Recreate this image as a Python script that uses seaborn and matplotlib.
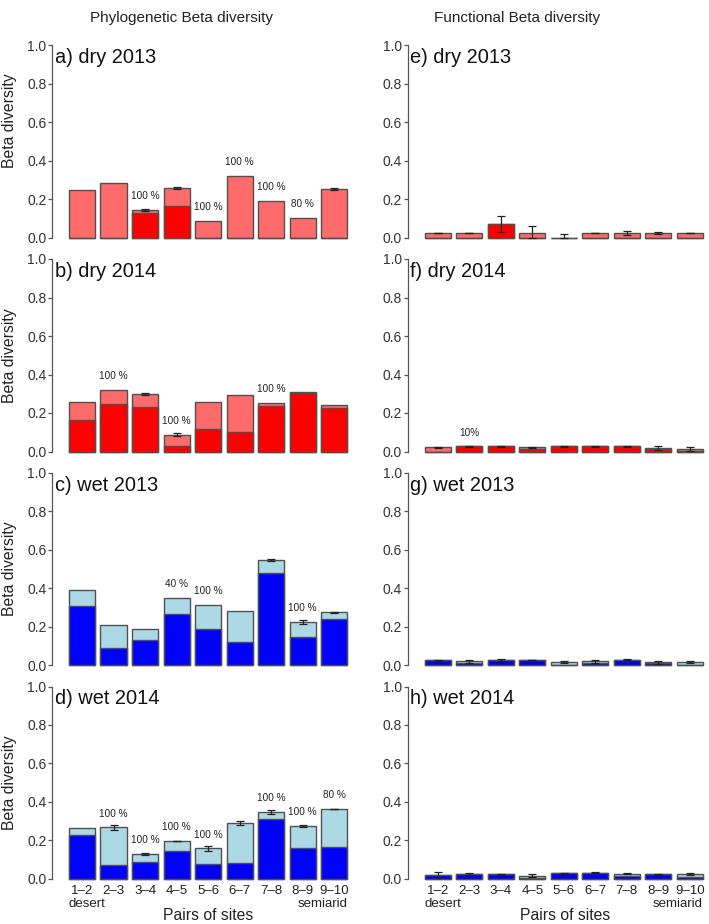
import matplotlib
matplotlib.use("Agg")
import matplotlib.pyplot as plt
import seaborn as sns
import numpy as np
import pandas as pd

sns.set_style("white")
plt.rcParams['font.family'] = ['Liberation Sans', 'DejaVu Sans']

pairs = ["1–2", "2–3", "3–4", "4–5", "5–6", "6–7", "7–8", "8–9", "9–10"]

# Phylogenetic beta diversity
phy_dry2013_total = [0.248, 0.283, 0.144, 0.257, 0.087, 0.319, 0.193, 0.104, 0.252]
phy_dry2013_dark = [0, 0, 0.130, 0.165, 0, 0, 0, 0, 0]
phy_dry2013_err = [0, 0, 0.007, 0.006, 0, 0, 0, 0, 0.006]
phy_dry2013_pct = ["", "", "100 %", "", "100 %", "100 %", "100 %", "80 %", ""]

phy_dry2014_total = [0.259, 0.321, 0.297, 0.088, 0.255, 0.295, 0.253, 0.309, 0.243]
phy_dry2014_dark = [0.166, 0.247, 0.233, 0.026, 0.116, 0.103, 0.238, 0.305, 0.228]
phy_dry2014_err = [0, 0, 0.005, 0.007, 0, 0, 0, 0, 0]
phy_dry2014_pct = ["", "100 %", "", "100 %", "", "", "100 %", "", ""]

phy_wet2013_total = [0.389, 0.207, 0.191, 0.349, 0.313, 0.281, 0.546, 0.225, 0.275]
phy_wet2013_dark = [0.310, 0.090, 0.129, 0.265, 0.186, 0.119, 0.477, 0.148, 0.238]
phy_wet2013_err = [0, 0, 0, 0, 0, 0, 0.005, 0.008, 0.003]
phy_wet2013_pct = ["", "", "", "40 %", "100 %", "", "", "100 %", ""]

phy_wet2014_total = [0.264, 0.268, 0.130, 0.197, 0.159, 0.292, 0.349, 0.276, 0.364]
phy_wet2014_dark = [0.231, 0.073, 0.088, 0.145, 0.078, 0.083, 0.313, 0.162, 0.168]
phy_wet2014_err = [0, 0.012, 0.003, 0.002, 0.014, 0.010, 0.010, 0.007, 0.002]
phy_wet2014_pct = ["", "100 %", "100 %", "100 %", "100 %", "", "100 %", "100 %", "80 %"]

# Functional beta diversity
fun_dry2013_total = [0.024, 0.024, 0.071, 0.024, 0.0, 0.024, 0.024, 0.024, 0.024]
fun_dry2013_dark = [0, 0, 0.071, 0, 0, 0, 0, 0, 0]
fun_dry2013_err = [0.002, 0.002, 0.040, 0.036, 0.017, 0.002, 0.012, 0.004, 0.002]
fun_dry2013_pct = [""] * 9

fun_dry2014_total = [0.022, 0.026, 0.026, 0.022, 0.026, 0.026, 0.026, 0.018, 0.014]
fun_dry2014_dark = [0, 0.026, 0.026, 0.015, 0.026, 0.026, 0.026, 0.013, 0.005]
fun_dry2014_err = [0.002, 0.003, 0.003, 0.002, 0.003, 0.003, 0.003, 0.008, 0.010]
fun_dry2014_pct = ["", "10%", "", "", "", "", "", "", ""]

fun_wet2013_total = [0.026, 0.020, 0.026, 0.028, 0.017, 0.020, 0.030, 0.015, 0.017]
fun_wet2013_dark = [0.026, 0.010, 0.026, 0.028, 0, 0.012, 0.030, 0.012, 0]
fun_wet2013_err = [0.004, 0.008, 0.005, 0.002, 0.007, 0.007, 0.002, 0.008, 0.007]
fun_wet2013_pct = [""] * 9

fun_wet2014_total = [0.019, 0.026, 0.024, 0.017, 0.029, 0.033, 0.028, 0.024, 0.024]
fun_wet2014_dark = [0.019, 0.026, 0.024, 0.005, 0.029, 0.033, 0.018, 0.024, 0.012]
fun_wet2014_err = [0.015, 0.004, 0.003, 0.008, 0.002, 0.002, 0.002, 0.002, 0.005]
fun_wet2014_pct = [""] * 9

panel_titles = ["a) dry 2013", "b) dry 2014", "c) wet 2013", "d) wet 2014",
                "e) dry 2013", "f) dry 2014", "g) wet 2013", "h) wet 2014"]
column_titles = ["Phylogenetic Beta diversity", "Functional Beta diversity"]

LIGHT_RED, DARK_RED = "#FF6A6A", "#FF0000"
LIGHT_BLUE, DARK_BLUE = "#ADD8E6", "#0000FF"
EDGE = "#505050"
AXC = "#555555"

W, H = 709, 924
fig = plt.figure(figsize=(W / 100, H / 100), dpi=100)

zeros_px = [237.7, 451.5, 665.3, 879.0]
unit_px = 192.5
ylo, yhi = -0.04, 1.04
xlo, xhi = -0.956, 8.78
col_left_px = [52.0, 407.7]
ax_w_px = 306.7

panels = [
    (phy_dry2013_total, phy_dry2013_dark, phy_dry2013_err, phy_dry2013_pct, "red"),
    (phy_dry2014_total, phy_dry2014_dark, phy_dry2014_err, phy_dry2014_pct, "red"),
    (phy_wet2013_total, phy_wet2013_dark, phy_wet2013_err, phy_wet2013_pct, "blue"),
    (phy_wet2014_total, phy_wet2014_dark, phy_wet2014_err, phy_wet2014_pct, "blue"),
    (fun_dry2013_total, fun_dry2013_dark, fun_dry2013_err, fun_dry2013_pct, "red"),
    (fun_dry2014_total, fun_dry2014_dark, fun_dry2014_err, fun_dry2014_pct, "red"),
    (fun_wet2013_total, fun_wet2013_dark, fun_wet2013_err, fun_wet2013_pct, "blue"),
    (fun_wet2014_total, fun_wet2014_dark, fun_wet2014_err, fun_wet2014_pct, "blue"),
]

for k, (total, dark, err, pct, scheme) in enumerate(panels):
    col, row = divmod(k, 4)
    z = zeros_px[row]
    top_px = z - (yhi) * unit_px
    h_px = (yhi - ylo) * unit_px
    ax = fig.add_axes([col_left_px[col] / W, 1 - (top_px + h_px) / H, ax_w_px / W, h_px / H])
    light_c, dark_c = (LIGHT_RED, DARK_RED) if scheme == "red" else (LIGHT_BLUE, DARK_BLUE)
    df = pd.DataFrame({"pair": pairs, "total": total, "dark": dark, "err": err, "pct": pct})
    sns.barplot(data=df, x="pair", y="total", order=pairs, color=light_c, saturation=1,
                edgecolor=EDGE, linewidth=1.0, width=0.833, errorbar=None, ax=ax)
    sns.barplot(data=df, x="pair", y="dark", order=pairs, color=dark_c, saturation=1,
                edgecolor=EDGE, linewidth=1.0, width=0.833, errorbar=None, ax=ax)
    xs = np.arange(len(pairs))
    tot = np.array(total, float)
    er = np.array(err, float)
    m = er > 0
    lo = np.minimum(er[m], tot[m])
    ax.errorbar(xs[m], tot[m], yerr=[lo, er[m]], fmt="none", ecolor="#222222",
                elinewidth=0.9, capsize=3.2, capthick=0.9, zorder=5)
    for i, p in enumerate(pct):
        if p:
            ax.text(xs[i], tot[i] + 0.072, p, ha="center", va="center", fontsize=7.2, color="#222222")
    ax.set_xlim(xlo, xhi)
    ax.set_ylim(ylo, yhi)
    for s in ["top", "right", "bottom"]:
        ax.spines[s].set_visible(False)
    ax.spines["left"].set_bounds(0, 1)
    ax.spines["left"].set_color(AXC)
    ax.spines["left"].set_linewidth(0.9)
    ax.set_yticks([0, 0.2, 0.4, 0.6, 0.8, 1.0])
    ax.set_yticklabels(["0.0", "0.2", "0.4", "0.6", "0.8", "1.0"])
    ax.tick_params(axis="y", direction="out", length=3, width=0.9, color=AXC, pad=1,
                   labelsize=10, labelcolor="#333333", left=True)
    ax.set_xlabel("")
    ax.set_ylabel("")
    if row == 3:
        ax.set_xticks(xs)
        ax.set_xticklabels(pairs)
        ax.tick_params(axis="x", length=0, pad=-1.5, labelsize=9.5, labelcolor="#222222")
        ax.text(-0.42, -0.128, "desert", ha="left", va="center", fontsize=9.5, color="#222222")
        ax.text(8.42, -0.128, "semiarid", ha="right", va="center", fontsize=9.5, color="#222222")
    else:
        ax.set_xticks([])
    ax.text(-0.87, 0.907, panel_titles[k], ha="left", va="baseline", fontsize=14.4, color="#111111")
    if col == 0:
        yl = 0.60 if row == 0 else 0.5
        ax.text(-42 / ax_w_px, yl, "Beta diversity", rotation=90, ha="center", va="center",
                fontsize=11.3, color="#222222", transform=ax.transAxes, clip_on=False)

fig.text(182 / W, 1 - 18 / H, column_titles[0], ha="center", va="center", fontsize=11, color="#222222")
fig.text(517 / W, 1 - 18 / H, column_titles[1], ha="center", va="center", fontsize=11, color="#222222")
fig.text(208 / W, 1 - 916 / H, "Pairs of sites", ha="center", va="center", fontsize=11.3, color="#222222")
fig.text(565 / W, 1 - 916 / H, "Pairs of sites", ha="center", va="center", fontsize=11.3, color="#222222")

fig.savefig("out.png", dpi=100)
